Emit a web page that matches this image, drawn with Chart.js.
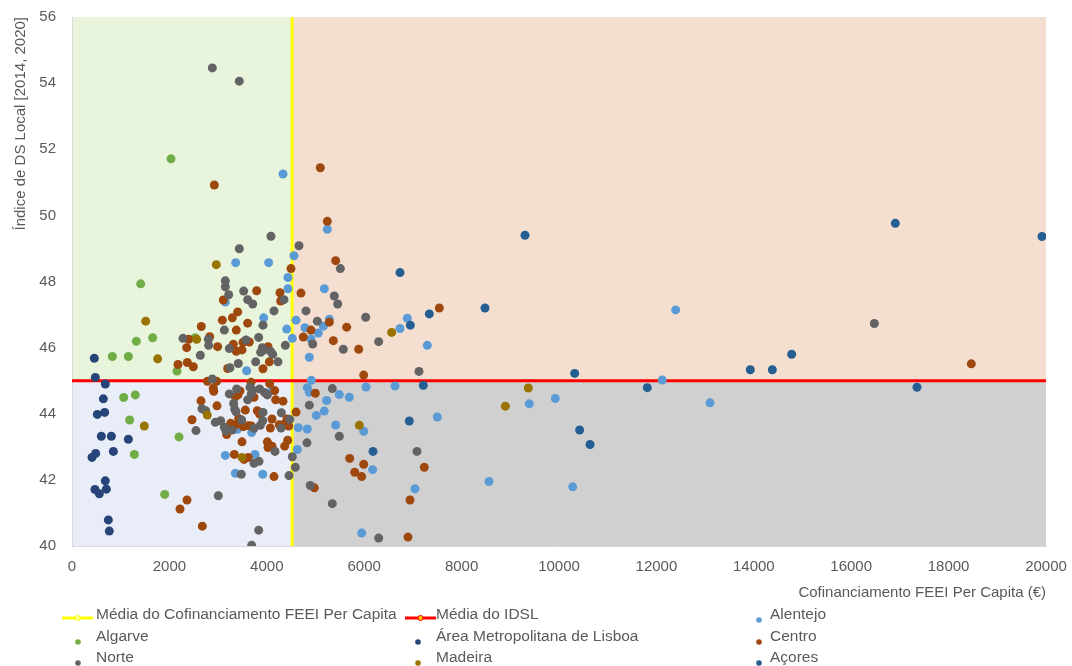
<!DOCTYPE html>
<html>
<head>
<meta charset="utf-8">
<script src="https://cdn.jsdelivr.net/npm/chart.js@4.4.0/dist/chart.umd.min.js"></script>
<style>
body { margin: 0; background: #fff; }
#wrap { position: relative; width: 1072px; height: 666px; font-family: 'Liberation Sans', Arial, sans-serif; }
#chart { position: absolute; left: 0; top: 0; }
#legend { position: absolute; left: 0; top: 0; width: 1072px; height: 666px; pointer-events: none; }
.item { position: absolute; font-size: 15.5px; color: #595959; white-space: nowrap; line-height: 18px; }
.sym { position: absolute; }
</style>
</head>
<body>
<div id="wrap">
  <canvas id="chart" width="1072" height="606"></canvas>
  <div id="legend"></div>
</div>
<script>
// médias (linhas de referência)
const xMean = 4520
const yMean = 45.0

const xTicks = [0, 2000, 4000, 6000, 8000, 10000, 12000, 14000, 16000, 18000, 20000]
const yTicks = [40, 42, 44, 46, 48, 50, 52, 54, 56]

// [cofinanciamento per capita, IDSL]
const alentejo = [[4333,51.25],[3361,48.57],[4038,48.57],[4559,48.78],[4435,48.12],[4435,47.78],[5243,49.58],[5181,47.78],
  [3148,47.38],[3936,46.9],[4600,46.83],[4408,46.56],[4524,46.28],[4784,46.6],[4908,46.26],[5058,46.44],[5161,46.65],
  [5284,46.86],[6886,46.89],[6735,46.58],[7296,46.07],[4873,45.71],[4914,45.01],[6037,44.81],[6633,44.84],[4832,44.79],
  [4873,44.65],[5489,44.58],[5694,44.5],[5229,44.4],[5181,44.08],[5017,43.95],[7501,43.9],[4647,43.58],[4832,43.54],
  [5414,43.66],[5990,43.47],[4627,42.92],[6174,42.31],[8563,41.95],[7043,41.73],[10281,41.79],[5948,40.39],[9390,44.3],
  [9924,44.46],[3586,45.3],[4107,44.7],[3689,43.43],[3395,43.53],[3148,42.74],[3758,42.77],[3354,42.2],[3916,42.17],
  [12121,45.02],[12396,47.14],[13101,44.33]]
const algarve = [[2033,51.71],[1410,47.93],[1656,46.3],[1321,46.19],[828,45.73],[1157,45.73],[2156,45.29],[1061,44.49],
  [1300,44.57],[1184,43.81],[2197,43.3],[1280,42.77],[1903,41.56],[2530,46.3]]
const lisboa = [[458,45.68],[479,45.1],[684,44.9],[643,44.45],[520,43.98],[671,44.04],[602,43.32],[808,43.32],[1157,43.23],
  [849,42.86],[411,42.68],[486,42.8],[684,41.97],[705,41.72],[472,41.71],[561,41.58],[746,40.79],[766,40.45]]
const centro = [[2922,50.92],[5099,51.44],[5243,49.82],[4497,48.39],[5414,48.63],[3792,47.72],[4271,47.66],[4702,47.65],
  [3107,47.44],[4285,47.41],[3402,47.08],[3087,46.83],[3292,46.9],[3607,46.74],[3374,46.53],[2655,46.64],[4908,46.53],
  [4750,46.32],[5284,46.77],[2396,46.25],[2827,46.33],[2355,46.0],[2991,46.03],[3313,46.1],[3641,46.17],[3511,46.16],
  [4025,46.03],[3491,45.93],[3374,45.89],[2177,45.49],[2368,45.55],[2491,45.42],[3196,45.37],[3922,45.36],[4052,45.57],
  [2779,44.98],[2970,44.98],[2901,44.77],[2910,44.68],[3676,44.95],[4059,44.91],[3450,44.69],[4162,44.7],[3409,44.57],
  [3354,44.51],[3737,44.5],[4182,44.42],[4333,44.38],[2649,44.39],[2977,44.24],[3559,44.11],[3805,44.09],[3854,43.99],
  [4600,44.05],[2464,43.82],[3176,43.37],[3258,43.71],[3347,43.66],[3422,43.86],[3518,43.61],[3620,43.64],[3682,43.63],
  [4107,43.84],[4072,43.57],[4257,43.67],[4381,43.71],[4415,43.84],[4449,43.63],[3491,43.15],[4011,43.15],[4045,43.05],
  [4107,43.02],[4025,42.98],[4429,43.2],[4367,43.02],[3333,42.77],[3620,42.68],[3532,42.62],[4148,42.1],[4975,41.76],
  [2361,41.39],[2218,41.12],[2676,40.6],[5702,42.65],[5990,42.47],[5805,42.23],[5948,42.1],[7234,42.38],[6940,41.39],
  [6899,40.27],[5366,46.21],[5887,45.95],[5990,45.17],[7542,47.2],[5640,46.62],[4996,44.62],[18466,45.51]]
const norte = [[2881,54.46],[3435,54.06],[4086,49.37],[3435,48.99],[4661,49.08],[5510,48.39],[3148,48.02],[3148,47.84],
  [3217,47.6],[3525,47.71],[3607,47.45],[3710,47.32],[4353,47.45],[4148,47.11],[4805,47.11],[3922,46.68],[3128,46.53],
  [5037,46.8],[4942,46.11],[3833,46.31],[2279,46.28],[2799,46.25],[2806,46.07],[3573,46.23],[3908,46.0],[4381,46.07],
  [3230,45.97],[3415,45.52],[2635,45.77],[3772,45.57],[4230,45.57],[3874,45.86],[3949,45.93],[4080,45.88],[4121,45.8],
  [3244,45.39],[2881,45.05],[3655,44.8],[3710,44.72],[3381,44.75],[3230,44.6],[3854,44.75],[3956,44.64],[4011,44.57],
  [3682,44.6],[3607,44.42],[3320,44.31],[2669,44.15],[2745,44.09],[3340,44.14],[3368,44.06],[3922,44.04],[4298,44.03],
  [2546,43.49],[2943,43.74],[3053,43.79],[3128,43.59],[3162,43.48],[3285,43.51],[3484,43.81],[3737,43.56],[3867,43.65],
  [3916,43.79],[4470,43.83],[4292,43.57],[4825,43.12],[4168,42.86],[3737,42.5],[3840,42.56],[3476,42.17],[4456,42.13],
  [4524,42.7],[4586,42.38],[4893,41.83],[3004,41.52],[3833,40.48],[3689,40.02],[7084,42.86],[5345,41.28],[6297,40.24],
  [5571,45.95],[6297,46.18],[7125,45.28],[5345,44.76],[5489,43.32],[5386,47.56],[5455,47.32],[6030,46.92],[4873,44.26],
  [16475,46.73]]
const madeira = [[2963,48.51],[1513,46.8],[1759,45.66],[1485,43.63],[2779,43.96],[3491,42.68],[2560,46.25],[6564,46.46],
  [9370,44.78],[8898,44.23],[5900,43.65]]
const acores = [[9302,49.4],[6735,48.27],[8480,47.2],[7337,47.02],[6947,46.68],[7214,44.86],[10322,45.22],[6926,43.78],
  [10424,43.51],[10637,43.07],[6181,42.86],[11813,44.79],[13928,45.33],[14380,45.33],[14778,45.8],[16906,49.76],
  [19918,49.36],[17351,44.8]]

const regions = [
  ['Alentejo', '#5B9BD5', alentejo],
  ['Algarve', '#70AD47', algarve],
  ['Área Metropolitana de Lisboa', '#264478', lisboa],
  ['Centro', '#9E480E', centro],
  ['Norte', '#636363', norte],
  ['Madeira', '#997300', madeira],
  ['Açores', '#255E91', acores]
]

const quadrants = {
  id: 'quadrants',
  beforeDraw(chart) {
    const {ctx, chartArea: a, scales: {x, y}} = chart
    const mx = x.getPixelForValue(xMean)
    const my = y.getPixelForValue(yMean)
    ctx.save()
    ctx.fillStyle = '#E8F4DC'
    ctx.fillRect(a.left, a.top, mx - a.left, my - a.top)
    ctx.fillStyle = '#F4DED0'
    ctx.fillRect(mx, a.top, a.right - mx, my - a.top)
    ctx.fillStyle = '#E9EDF7'
    ctx.fillRect(a.left, my, mx - a.left, a.bottom - my)
    ctx.fillStyle = '#D0D0D0'
    ctx.fillRect(mx, my, a.right - mx, a.bottom - my)
    ctx.restore()
  }
}

let datasets = [
  {
    type: 'line', label: 'Média do Cofinanciamento FEEI Per Capita',
    data: [{x: xMean, y: yTicks[0]}, {x: xMean, y: yTicks[yTicks.length - 1]}],
    borderColor: '#FFFF00', backgroundColor: '#FFFF00', borderWidth: 3, pointRadius: 0, order: 20
  },
  {
    type: 'line', label: 'Média do IDSL',
    data: [{x: xTicks[0], y: yMean}, {x: xTicks[xTicks.length - 1], y: yMean}],
    borderColor: '#FF0000', backgroundColor: '#FF0000', borderWidth: 3, pointRadius: 0, order: 19
  }
]
regions.forEach((r, i) => {
  datasets.push({
    type: 'scatter', label: r[0],
    data: r[2].map(p => ({x: p[0], y: p[1]})),
    backgroundColor: r[1], borderColor: r[1], borderWidth: 0,
    pointRadius: 4.5, pointHoverRadius: 4.5, order: 10 - i
  })
})

const tickFont = {family: "'Liberation Sans', Arial, sans-serif", size: 15}

const chart = new Chart(document.getElementById('chart'), {
  type: 'scatter',
  data: {datasets: datasets},
  options: {
    responsive: false,
    animation: false,
    layout: {padding: {top: 17, right: 26, left: 0, bottom: 0}},
    plugins: {legend: {display: false}, tooltip: {enabled: false}},
    scales: {
      x: {
        type: 'linear', min: xTicks[0], max: xTicks[xTicks.length - 1],
        afterBuildTicks: s => { s.ticks = xTicks.map(v => ({value: v})) },
        afterFit: s => { s.height = 60; s.paddingLeft = 0; s.paddingRight = 0 },
        grid: {display: false, drawTicks: false},
        border: {display: true, color: '#D9D9D9', width: 1},
        ticks: {color: '#595959', font: tickFont, padding: 12, callback: v => String(v)},
        title: {display: true, text: 'Cofinanciamento FEEI Per Capita (€)', align: 'end',
          color: '#595959', font: tickFont, padding: {top: 0, bottom: 4}}
      },
      y: {
        type: 'linear', min: yTicks[0], max: yTicks[yTicks.length - 1],
        afterBuildTicks: s => { s.ticks = yTicks.map(v => ({value: v})) },
        afterFit: s => { s.width = 72; s.paddingTop = 0; s.paddingBottom = 0 },
        grid: {display: false, drawTicks: false},
        border: {display: true, color: '#D9D9D9', width: 1},
        ticks: {color: '#595959', font: tickFont, padding: 16, callback: v => String(v)},
        title: {display: true, text: 'Índice de DS Local [2014, 2020]', align: 'end',
          color: '#595959', font: tickFont, padding: {top: 12, bottom: 0}}
      }
    }
  },
  plugins: [quadrants]
})

// legenda em 3 colunas, como no Excel
const legendPos = [[62, 96], [405, 436], [759, 770], [78, 96], [418, 436], [759, 770], [78, 96], [418, 436], [759, 770]]
const rowY = [614, 636, 657]
const legend = document.getElementById('legend')
chart.data.datasets.forEach((ds, i) => {
  const row = Math.floor(i / 3)
  const pos = legendPos[i]
  const sym = document.createElement('div')
  sym.className = 'sym'
  if (ds.type === 'line') {
    const dot = i === 0 ? '#FFFFA0' : '#FFC000'
    sym.innerHTML = '<svg width="31" height="10"><line x1="0" y1="5" x2="31" y2="5" stroke="' + ds.borderColor +
      '" stroke-width="3"/><circle cx="15.5" cy="5" r="2.6" fill="' + dot + '" stroke="' + ds.borderColor + '" stroke-width="1"/></svg>'
    sym.style.left = pos[0] + 'px'
    sym.style.top = (rowY[row] - 5) + 'px'
  } else {
    sym.innerHTML = '<svg width="8" height="8"><circle cx="4" cy="4" r="2.8" fill="' + ds.backgroundColor + '"/></svg>'
    sym.style.left = (pos[0] - 4) + 'px'
    sym.style.top = (rowY[row] - 4) + 'px'
  }
  legend.appendChild(sym)
  const item = document.createElement('div')
  item.className = 'item'
  item.style.left = pos[1] + 'px'
  item.style.top = (rowY[row] - 9) + 'px'
  item.appendChild(document.createTextNode(ds.label))
  legend.appendChild(item)
})
</script>
</body>
</html>
